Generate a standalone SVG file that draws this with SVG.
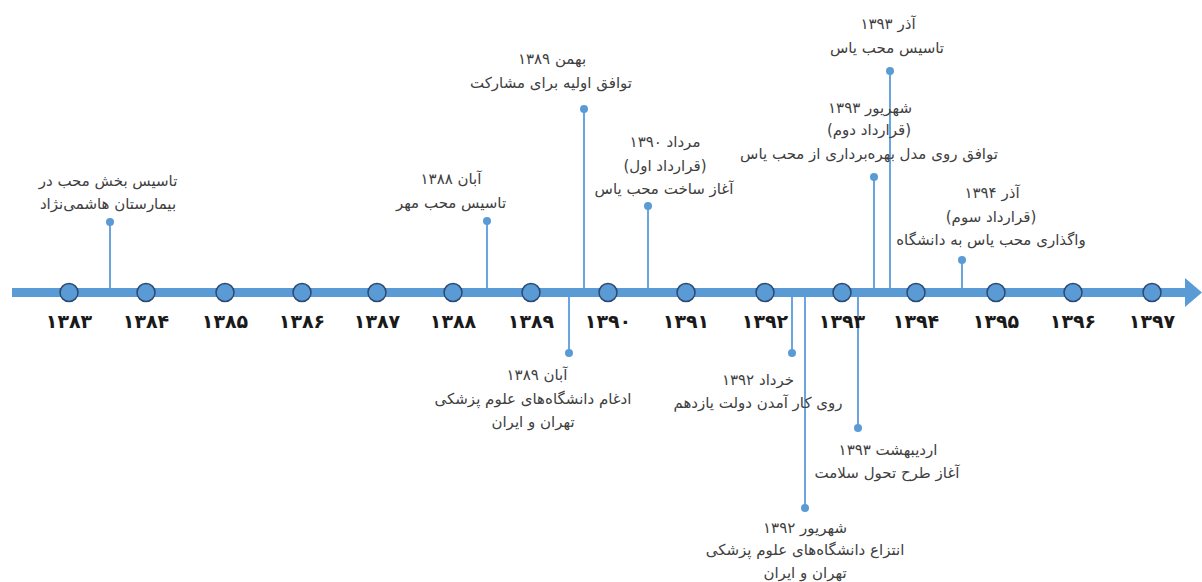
<svg xmlns="http://www.w3.org/2000/svg" width="1202" height="582" viewBox="0 0 1202 582">
<style>
.lbl{font-family:"DejaVu Sans",sans-serif;font-size:15px;fill:#404040;text-anchor:middle;direction:rtl;unicode-bidi:embed}
.yr{font-family:"DejaVu Sans",sans-serif;font-size:19px;font-weight:bold;fill:#1a1a1a;text-anchor:middle}
.tick{fill:#5B9BD5;stroke:#2B4A74;stroke-width:1.5}
.stem{stroke:#6AA6DD;stroke-width:2;fill:none}
.dot{fill:#5B9BD5}
</style>
<rect width="1202" height="582" fill="#ffffff"/>
<g id="connectors">
<line class="stem" x1="110" y1="222" x2="110" y2="297"/>
<line class="stem" x1="487" y1="221" x2="487" y2="292"/>
<line class="stem" x1="584" y1="109" x2="584" y2="292"/>
<line class="stem" x1="648" y1="206" x2="648" y2="292"/>
<line class="stem" x1="874" y1="177" x2="874" y2="292"/>
<line class="stem" x1="890" y1="71" x2="890" y2="292"/>
<line class="stem" x1="962" y1="260" x2="962" y2="292"/>
<line class="stem" x1="569" y1="292" x2="569" y2="353"/>
<line class="stem" x1="792" y1="292" x2="792" y2="353"/>
<line class="stem" x1="805" y1="292" x2="805" y2="508"/>
<line class="stem" x1="858" y1="292" x2="858" y2="428"/>
</g>
<g id="axis">
<rect x="12" y="288" width="1176" height="9" fill="#5B9BD5"/>
<polygon points="1185,278 1202,292.5 1185,307" fill="#5B9BD5"/>
<circle class="tick" cx="69" cy="292.5" r="9"/>
<circle class="tick" cx="146" cy="292.5" r="9"/>
<circle class="tick" cx="225" cy="292.5" r="9"/>
<circle class="tick" cx="302" cy="292.5" r="9"/>
<circle class="tick" cx="377" cy="292.5" r="9"/>
<circle class="tick" cx="453" cy="292.5" r="9"/>
<circle class="tick" cx="531" cy="292.5" r="9"/>
<circle class="tick" cx="608" cy="292.5" r="9"/>
<circle class="tick" cx="686" cy="292.5" r="9"/>
<circle class="tick" cx="765" cy="292.5" r="9"/>
<circle class="tick" cx="842" cy="292.5" r="9"/>
<circle class="tick" cx="916" cy="292.5" r="9"/>
<circle class="tick" cx="996" cy="292.5" r="9"/>
<circle class="tick" cx="1073" cy="292.5" r="9"/>
<circle class="tick" cx="1152" cy="292.5" r="9"/>
<text class="yr" x="69" y="328">۱۳۸۳</text>
<text class="yr" x="146" y="328">۱۳۸۴</text>
<text class="yr" x="225" y="328">۱۳۸۵</text>
<text class="yr" x="302" y="328">۱۳۸۶</text>
<text class="yr" x="377" y="328">۱۳۸۷</text>
<text class="yr" x="453" y="328">۱۳۸۸</text>
<text class="yr" x="531" y="328">۱۳۸۹</text>
<text class="yr" x="608" y="328">۱۳۹۰</text>
<text class="yr" x="686" y="328">۱۳۹۱</text>
<text class="yr" x="765" y="328">۱۳۹۲</text>
<text class="yr" x="842" y="328">۱۳۹۳</text>
<text class="yr" x="916" y="328">۱۳۹۴</text>
<text class="yr" x="996" y="328">۱۳۹۵</text>
<text class="yr" x="1073" y="328">۱۳۹۶</text>
<text class="yr" x="1152" y="328">۱۳۹۷</text>
</g>
<g id="e1">
<circle class="dot" cx="110" cy="222" r="4"/>
<text class="lbl" x="108" y="186">تاسیس بخش محب در</text>
<text class="lbl" x="108" y="209">بیمارستان هاشمی‌نژاد</text>
</g>
<g id="e2">
<circle class="dot" cx="487" cy="221" r="4"/>
<text class="lbl" x="451" y="184">آبان ۱۳۸۸</text>
<text class="lbl" x="451" y="208">تاسیس محب مهر</text>
</g>
<g id="e3">
<circle class="dot" cx="584" cy="109" r="4"/>
<text class="lbl" x="552" y="64">بهمن ۱۳۸۹</text>
<text class="lbl" x="551" y="88">توافق اولیه برای مشارکت</text>
</g>
<g id="e4">
<circle class="dot" cx="648" cy="206" r="4"/>
<text class="lbl" x="665" y="147">مرداد ۱۳۹۰</text>
<text class="lbl" x="665" y="171">(قرارداد اول)</text>
<text class="lbl" x="664" y="194">آغاز ساخت محب یاس</text>
</g>
<g id="e5">
<circle class="dot" cx="874" cy="177" r="4"/>
<text class="lbl" x="870" y="113">شهریور ۱۳۹۳</text>
<text class="lbl" x="869" y="135">(قرارداد دوم)</text>
<text class="lbl" x="869" y="159">توافق روی مدل بهره‌برداری از محب یاس</text>
</g>
<g id="e6">
<circle class="dot" cx="890" cy="71" r="4"/>
<text class="lbl" x="888" y="29">آذر ۱۳۹۳</text>
<text class="lbl" x="887" y="53">تاسیس محب یاس</text>
</g>
<g id="e7">
<circle class="dot" cx="962" cy="260" r="4"/>
<text class="lbl" x="992" y="198">آذر ۱۳۹۴</text>
<text class="lbl" x="991" y="222">(قرارداد سوم)</text>
<text class="lbl" x="991" y="245">واگذاری محب یاس به دانشگاه</text>
</g>
<g id="e8">
<circle class="dot" cx="569" cy="353" r="4"/>
<text class="lbl" x="537" y="380">آبان ۱۳۸۹</text>
<text class="lbl" x="533" y="404">ادغام دانشگاه‌های علوم پزشکی</text>
<text class="lbl" x="533" y="427">تهران و ایران</text>
</g>
<g id="e9">
<circle class="dot" cx="792" cy="353" r="4"/>
<text class="lbl" x="758" y="385">خرداد ۱۳۹۲</text>
<text class="lbl" x="758" y="408">روی کار آمدن دولت یازدهم</text>
</g>
<g id="e10">
<circle class="dot" cx="805" cy="508" r="4"/>
<text class="lbl" x="805" y="533">شهریور ۱۳۹۲</text>
<text class="lbl" x="805" y="555">انتزاع دانشگاه‌های علوم پزشکی</text>
<text class="lbl" x="805" y="578">تهران و ایران</text>
</g>
<g id="e11">
<circle class="dot" cx="858" cy="428" r="4"/>
<text class="lbl" x="888" y="455">اردیبهشت ۱۳۹۳</text>
<text class="lbl" x="887" y="478">آغاز طرح تحول سلامت</text>
</g>
</svg>
